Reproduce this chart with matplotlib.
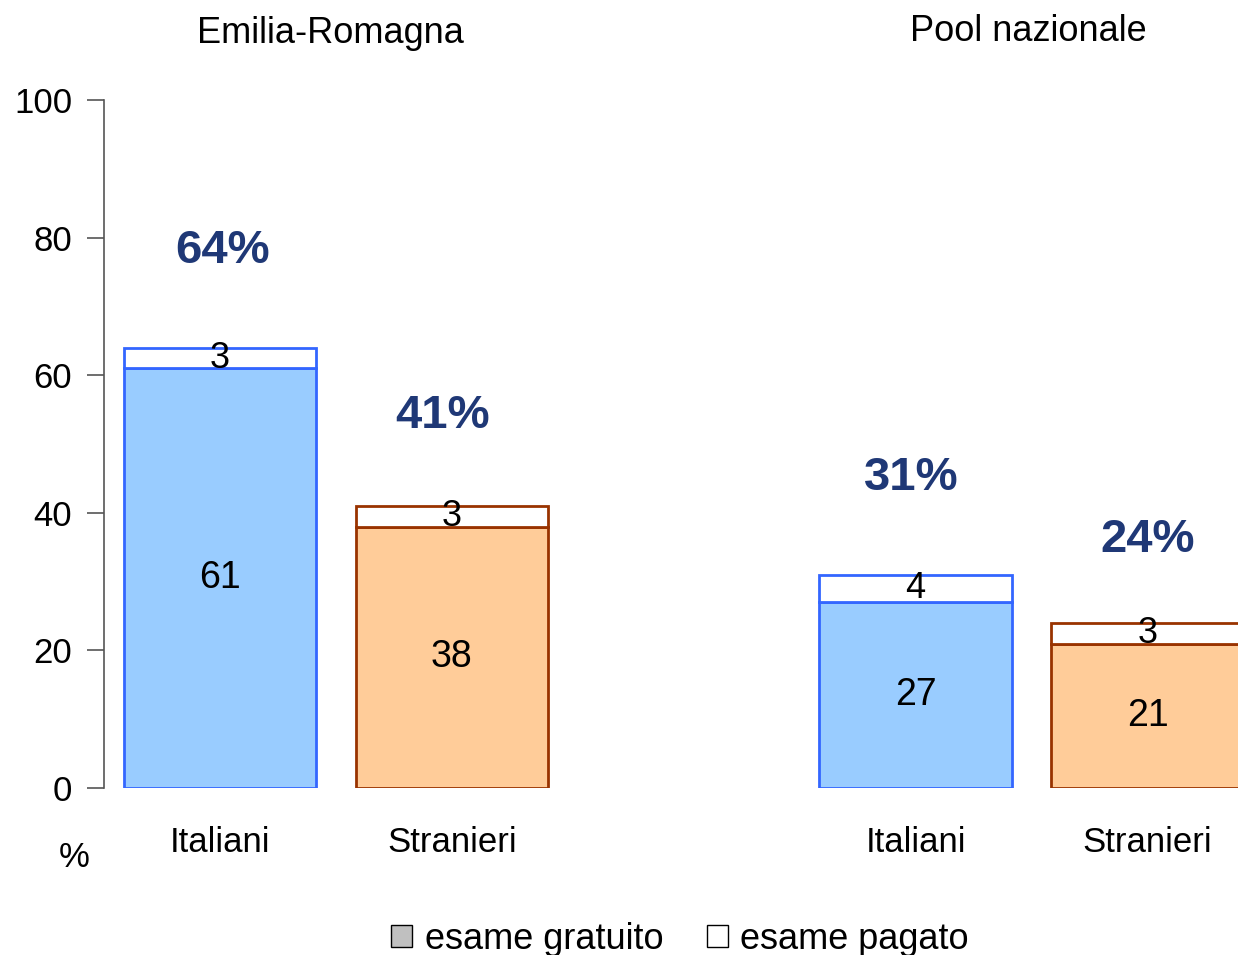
import matplotlib.pyplot as plt
from matplotlib.patches import Patch

plt.rcParams['font.family'] = ['Liberation Sans', 'DejaVu Sans']

# data
groups = ['Emilia-Romagna', 'Pool nazionale']
categories = ['Italiani', 'Stranieri', 'Italiani', 'Stranieri']
positions = [0, 1, 3, 4]
gratuito = [61, 38, 27, 21]
pagato = [3, 3, 4, 3]
totals = ['64%', '41%', '31%', '24%']

fills = ['#99CCFF', '#FFCC99', '#99CCFF', '#FFCC99']
edges = ['#3366FF', '#993300', '#3366FF', '#993300']
navy = '#1F3876'

fig = plt.figure(figsize=(12.38, 9.55), dpi=100)
ax = fig.add_axes([104 / 1238, 1 - 788 / 955, 1 - 104 / 1238, 688 / 955])

width = 0.83
ax.bar(positions, gratuito, width, color=fills, edgecolor=edges, linewidth=2)
ax.bar(positions, pagato, width, bottom=gratuito, color='white', edgecolor=edges, linewidth=2)

for x, g, p in zip(positions, gratuito, pagato):
    ax.text(x, g / 2, str(g), ha='center', va='center', fontsize=27)
    ax.text(x, g + p / 2, str(p), ha='center', va='center', fontsize=26)

label_dx = [0.01, -0.04, -0.02, 0.0]
label_dy = [14.0, 13.0, 14.0, 12.1]
for x, g, p, t, dx, dy in zip(positions, gratuito, pagato, totals, label_dx, label_dy):
    ax.text(x + dx, g + p + dy, t, ha='center', va='center', fontsize=34,
            fontweight='bold', color=navy)

ax.set_xlim(-0.5, 4.39)
ax.set_ylim(0, 100)
ax.set_yticks(range(0, 101, 20))
ax.tick_params(axis='y', length=12, width=1.2, color='#555555', labelsize=25, pad=11)
ax.set_xticks([])
for s in ['top', 'right', 'bottom']:
    ax.spines[s].set_visible(False)
ax.spines['left'].set_color('#555555')
ax.spines['left'].set_linewidth(1.2)

for x, c in zip(positions, categories):
    ax.text(x, -7.9, c, ha='center', va='center', fontsize=25, clip_on=False)
ax.text(-0.63, -10.1, '%', ha='center', va='center', fontsize=25, clip_on=False)

ax.text(0.475, 109.6, groups[0], ha='center', va='center', fontsize=26, clip_on=False)
ax.text(3.485, 109.9, groups[1], ha='center', va='center', fontsize=26, clip_on=False)

handles = [Patch(facecolor='#C0C0C0', edgecolor='black', label='esame gratuito'),
           Patch(facecolor='white', edgecolor='black', label='esame pagato')]
fig.legend(handles=handles, loc='center', bbox_to_anchor=(680 / 1238, 1 - 939 / 955),
           ncol=2, frameon=False, fontsize=26, handlelength=0.58, handleheight=0.58,
           handletextpad=0.34, columnspacing=1.2)

fig.savefig('out.png', dpi=100)
